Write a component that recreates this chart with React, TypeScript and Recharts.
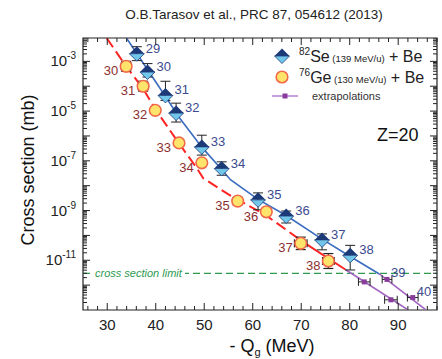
import React from "react";
import { ComposedChart, Line, Scatter, XAxis, YAxis, ErrorBar, ReferenceLine, ReferenceArea } from "recharts";

// layout
const W = 442;
const H = 359;
const PL = 83;
const PT = 38;
const PW = 354;
const PH = 272;
const FONT = "'Liberation Sans', Arial, sans-serif";

// axis ranges (y values are log10 of the cross section in mb)
const X_MIN = 25;
const X_MAX = 98;
const Y_MIN = -13;
const Y_MAX = -2.06;
const xLabelTicks = [30, 40, 50, 60, 70, 80, 90];
const yLabelTicks = [-3, -5, -7, -9, -11];
const yDecades = [-12, -11, -10, -9, -8, -7, -6, -5, -4, -3];

// 82Se (139 MeV/u) + Be
const seN = [29, 30, 31, 32, 33, 34, 35, 36, 37, 38];
const seQ = [36.1, 38.3, 42.0, 44.2, 49.5, 53.6, 61.1, 66.9, 74.3, 80.1];
const seLog = [-2.69, -3.43, -4.37, -5.08, -6.44, -7.31, -8.57, -9.22, -10.18, -10.8];
const seUp = [0.28, 0.34, 0.57, 0.4, 0.47, 0.27, 0.28, 0.2, 0.24, 0.4];
const seDown = [0.28, 0.2, 0.2, 0.36, 0.33, 0.27, 0.4, 0.28, 0.4, 0.59];

// 76Ge (130 MeV/u) + Be
const geN = [30, 31, 32, 33, 34, 35, 36, 37, 38];
const geQ = [33.9, 37.4, 39.9, 44.8, 49.5, 56.9, 62.8, 69.9, 75.6];
const geLog = [-3.2, -4.0, -4.97, -6.28, -7.08, -8.62, -9.05, -10.32, -11.03];
const geErrY = [0.2, 0.2, 0.12, 0.1, 0.1, 0.15, 0.12, 0.25, 0.3];
const geErrX = [1.0, 1.0, 0.8, 0.6, 0.6, 0.8, 0.8, 1.3, 1.2];

// extrapolations
const seExtN = [39, 40];
const seExtQ = [87.7, 93.0];
const seExtLog = [-11.77, -12.5];
const seExtErrX = [1.0, 1.1];
const geExtQ = [83.0, 88.5];
const geExtLog = [-11.87, -12.59];
const geExtErrX = [1.2, 1.3];

// model curves
const blueQ = [34.0, 40.6, 45.0, 49.5, 53.6, 55.4, 61.1, 66.9, 74.3, 80.1, 86.1];
const blueLog = [-2.07, -4.0, -5.3, -6.45, -7.35, -7.76, -8.55, -9.2, -10.15, -10.85, -11.55];
const seExtLineQ = [86.1, 95.6];
const seExtLineLog = [-11.55, -12.98];
const redQ = [29.9, 33.9, 37.4, 40.0, 44.8, 48.5, 49.8, 55.0, 62.8, 70.5];
const redLog = [-2.07, -3.2, -4.1, -4.95, -6.3, -7.3, -7.7, -8.35, -9.2, -10.28];
const redSolidQ = [70.5, 79.1];
const redSolidLog = [-10.28, -11.37];
const geExtLineQ = [79.1, 91.9];
const geExtLineLog = [-11.37, -12.98];

const LIMIT = -11.53;

const pts = (q: number[], l: number[]) => q.map((x, i) => ({ x, y: l[i] }));

const seData = seQ.map((x, i) => ({ x, y: seLog[i], ey: [seDown[i], seUp[i]], n: seN[i] }));
const geData = geQ.map((x, i) => ({ x, y: geLog[i], ey: geErrY[i], ex: geErrX[i], n: geN[i] }));
const seExtData = seExtQ.map((x, i) => ({ x, y: seExtLog[i], ex: seExtErrX[i], n: seExtN[i] }));
const geExtData = geExtQ.map((x, i) => ({ x, y: geExtLog[i], ex: geExtErrX[i] }));

const yMinor: number[] = [];
for (let d = -13; d <= -3; d++) {
  for (let k = 2; k <= 9; k++) {
    const v = d + Math.log10(k);
    if (v < Y_MAX) yMinor.push(v);
  }
}
const yTicks = [...yDecades, ...yMinor].sort((a, b) => a - b);
const xTicks: number[] = [];
for (let v = 26; v <= 98; v += 2) xTicks.push(v);

const SE_TOP = "#1d3a78";
const SE_BOT = "#72c6ea";
const SE_TXT = "#3c4a8e";
const GE_FILL = "#ffe46b";
const GE_STROKE = "#f2694a";
const GE_TXT = "#8b2f2f";
const PURPLE = "#a466c2";

const Diamond = ({ cx, cy }: any) => (
  <g>
    <polygon points={`${cx - 7.5},${cy} ${cx},${cy - 7.5} ${cx + 7.5},${cy}`} fill={SE_TOP} />
    <polygon points={`${cx - 7.5},${cy} ${cx + 7.5},${cy} ${cx},${cy + 7.5}`} fill={SE_BOT} stroke={SE_TOP} strokeWidth={0.8} />
  </g>
);

const SeShape = (p: any) => (
  <g>
    <Diamond cx={p.cx} cy={p.cy} />
    <text x={p.cx + 9} y={p.cy - 1} fontSize={13} fill={SE_TXT} fontFamily={FONT}>
      {p.payload.n}
    </text>
  </g>
);

const GeShape = (p: any) => (
  <g>
    <circle cx={p.cx} cy={p.cy} r={5.8} fill={GE_FILL} stroke={GE_STROKE} strokeWidth={1.6} />
    <text x={p.cx - 8} y={p.cy + 9} fontSize={13} fill={GE_TXT} fontFamily={FONT} textAnchor="end">
      {p.payload.n}
    </text>
  </g>
);

const ExtShape = (p: any) => (
  <g>
    <rect x={p.cx - 2.5} y={p.cy - 2.5} width={5} height={5} fill="#8a3c9c" />
    {p.payload.n ? (
      <text x={p.cx + 4} y={p.cy - 2} fontSize={13} fill={SE_TXT} fontFamily={FONT}>
        {p.payload.n}
      </text>
    ) : null}
  </g>
);

const NoShape = () => <g />;

const YTick = ({ x, y, payload }: any) => {
  const v = payload.value;
  const major = Math.abs(v - Math.round(v)) < 1e-6;
  const len = major ? 7 : 4;
  const lab = major && yLabelTicks.includes(Math.round(v));
  return (
    <g>
      <line x1={x} x2={x + len} y1={y} y2={y} stroke="#222" strokeWidth={1} />
      <line x1={x + PW} x2={x + PW - len} y1={y} y2={y} stroke="#222" strokeWidth={1} />
      {lab ? (
        <text x={x - 7} y={y + 5} textAnchor="end" fontSize={15} fill="#222" fontFamily={FONT}>
          10
          <tspan fontSize={10} dy={-7}>
            {Math.round(v)}
          </tspan>
        </text>
      ) : null}
    </g>
  );
};

const XTick = ({ x, y, payload }: any) => {
  const v = payload.value;
  const major = v % 10 === 0;
  const len = major ? 7 : 4;
  return (
    <g>
      <line x1={x} x2={x} y1={y} y2={y - len} stroke="#222" strokeWidth={1} />
      <line x1={x} x2={x} y1={y - PH} y2={y - PH + len} stroke="#222" strokeWidth={1} />
      {major && xLabelTicks.includes(v) ? (
        <text x={x} y={y + 20} textAnchor="middle" fontSize={15} fill="#222" fontFamily={FONT}>
          {v}
        </text>
      ) : null}
    </g>
  );
};

const LimitLabel = ({ viewBox }: any) => {
  const x = viewBox.x;
  const y = viewBox.y;
  return (
    <g>
      <rect x={x + 9} y={y - 7} width={93} height={14} fill="#fff" />
      <text x={x + 12} y={y + 4} fontSize={11} fontStyle="italic" fill="#2e9a50" fontFamily={FONT}>
        cross section limit
      </text>
    </g>
  );
};

const YTitle = () => (
  <text x={34} y={170} transform="rotate(-90 34 170)" textAnchor="middle" fontSize={18} fill="#111" fontFamily={FONT}>
    Cross section (mb)
  </text>
);

const XTitle = () => (
  <text x={272} y={352} textAnchor="middle" fontSize={18} fill="#111" fontFamily={FONT}>
    - Q
    <tspan fontSize={11} dy={4}>g</tspan>
    <tspan dy={-4}> (MeV)</tspan>
  </text>
);

export default function App() {
  return (
    <div style={{ position: "absolute", left: 0, top: 0, width: W, height: H, background: "#fff" }}>
      <ComposedChart width={W} height={H} margin={{ top: PT, right: W - PL - PW, bottom: 0, left: 0 }}>
        <ReferenceArea x1={X_MIN} x2={X_MAX} y1={Y_MIN} y2={Y_MAX} fill="none" stroke="#222" strokeWidth={1.2} />
        <XAxis
          type="number"
          dataKey="x"
          domain={[X_MIN, X_MAX]}
          ticks={xTicks}
          interval={0}
          allowDataOverflow
          height={H - PT - PH}
          tickSize={0}
          tickMargin={0}
          tickLine={false}
          axisLine={false}
          tick={XTick}
          label={<XTitle />}
        />
        <YAxis
          type="number"
          dataKey="y"
          domain={[Y_MIN, Y_MAX]}
          ticks={yTicks}
          interval={0}
          allowDataOverflow
          width={PL}
          tickSize={0}
          tickMargin={0}
          tickLine={false}
          axisLine={false}
          tick={YTick}
          label={<YTitle />}
        />
        <ReferenceLine y={LIMIT} stroke="#2e9a50" strokeWidth={1.2} strokeDasharray="7 4" label={<LimitLabel />} />
        <Line data={pts(redQ, redLog)} dataKey="y" type="linear" stroke="#ff2424" strokeWidth={2} strokeDasharray="11 5" dot={false} isAnimationActive={false} />
        <Line data={pts(redSolidQ, redSolidLog)} dataKey="y" type="linear" stroke="#ff2424" strokeWidth={2} dot={false} isAnimationActive={false} />
        <Line data={pts(geExtLineQ, geExtLineLog)} dataKey="y" type="linear" stroke={PURPLE} strokeWidth={1.6} dot={false} isAnimationActive={false} />
        <Line data={pts(blueQ, blueLog)} dataKey="y" type="linear" stroke="#3a6cc0" strokeWidth={1.6} dot={false} isAnimationActive={false} />
        <Line data={pts(seExtLineQ, seExtLineLog)} dataKey="y" type="linear" stroke={PURPLE} strokeWidth={1.6} dot={false} isAnimationActive={false} />
        <Scatter data={seExtData} dataKey="y" shape={ExtShape} isAnimationActive={false}>
          <ErrorBar dataKey="ex" direction="x" stroke="#222" width={4} strokeWidth={1} />
        </Scatter>
        <Scatter data={geExtData} dataKey="y" shape={ExtShape} isAnimationActive={false}>
          <ErrorBar dataKey="ex" direction="x" stroke="#222" width={4} strokeWidth={1} />
        </Scatter>
        <Scatter data={seData} dataKey="y" shape={SeShape} isAnimationActive={false}>
          <ErrorBar dataKey="ey" direction="y" stroke="#222" width={5} strokeWidth={1} />
        </Scatter>
        <Scatter data={geData} dataKey="y" shape={GeShape} isAnimationActive={false} />
        <Scatter data={geData} dataKey="y" shape={NoShape} isAnimationActive={false}>
          <ErrorBar dataKey="ey" direction="y" stroke="#222" width={5} strokeWidth={1.2} />
          <ErrorBar dataKey="ex" direction="x" stroke="#222" width={4} strokeWidth={1.2} />
        </Scatter>
      </ComposedChart>
      <svg width={W} height={H} style={{ position: "absolute", left: 0, top: 0, pointerEvents: "none" }} fontFamily={FONT}>
        <text x={254} y={19} textAnchor="middle" fontSize={13.5} fill="#222">
          O.B.Tarasov et al., PRC 87, 054612 (2013)
        </text>
        <Diamond cx={282} cy={56} />
        <text x={299} y={62} fontSize={16} fill="#222">
          <tspan fontSize={10} dy={-7}>82</tspan>
          <tspan dy={7}>Se</tspan>
          <tspan fontSize={9.5}> (139 MeV/u)</tspan>
          <tspan> + Be</tspan>
        </text>
        <circle cx={282} cy={77} r={5.8} fill={GE_FILL} stroke={GE_STROKE} strokeWidth={1.6} />
        <text x={299} y={83} fontSize={16} fill="#222">
          <tspan fontSize={10} dy={-7}>76</tspan>
          <tspan dy={7}>Ge</tspan>
          <tspan fontSize={9.5}> (130 MeV/u)</tspan>
          <tspan> + Be</tspan>
        </text>
        <line x1={272} x2={298} y1={96} y2={96} stroke="#c8a0dc" strokeWidth={2} />
        <rect x={282.5} y={93.5} width={5} height={5} fill="#8a3c9c" />
        <text x={312} y={100} fontSize={11} fill="#333">
          extrapolations
        </text>
        <text x={377} y={141} fontSize={18} fill="#111">
          Z=20
        </text>
      </svg>
    </div>
  );
}
